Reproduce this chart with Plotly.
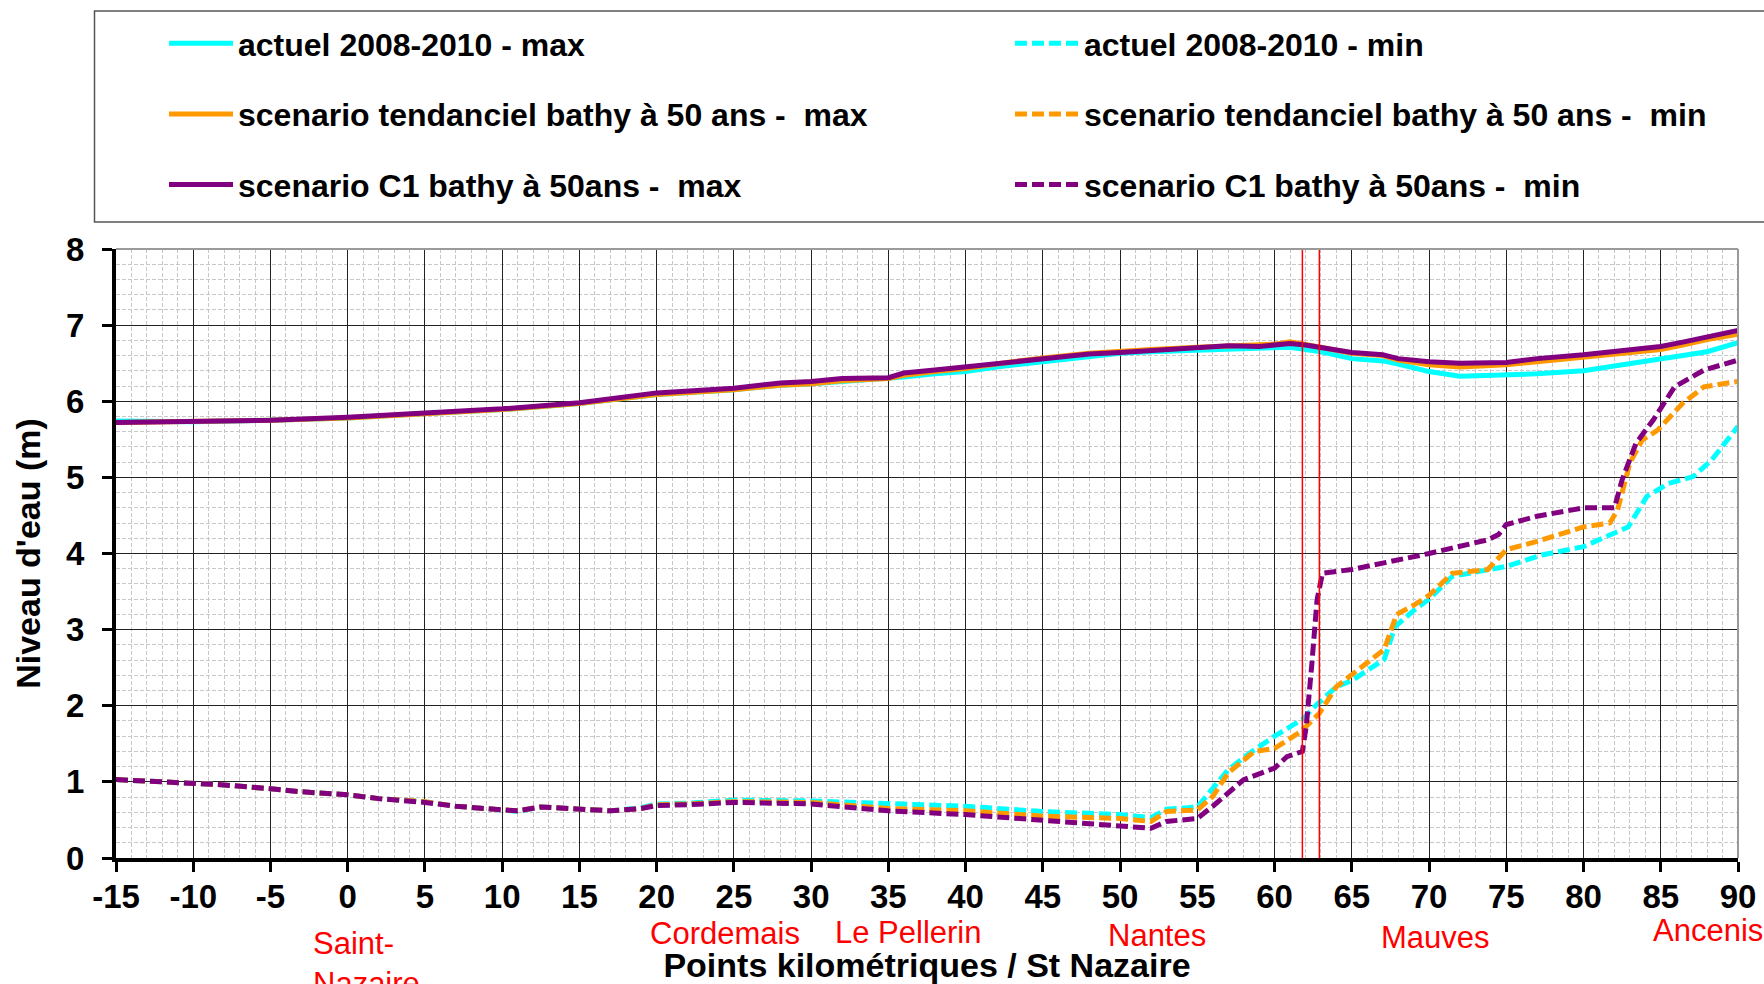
import plotly.graph_objects as go

# ---------------- data ----------------
x_max = [-15, -10, -5, 0, 5, 10, 15, 20, 25, 28, 30, 32, 35, 36, 38, 40, 42, 45, 48, 50,
         52, 55, 57, 59, 60, 61, 62, 63, 65, 67, 68, 70, 72, 75, 77, 80, 85, 86.5, 88, 90]
max_actuel = [5.74, 5.73, 5.75, 5.78, 5.84, 5.89, 5.97, 6.09, 6.15, 6.21, 6.23, 6.26, 6.29, 6.32, 6.36, 6.39, 6.45, 6.52, 6.59, 6.63,
              6.65, 6.67, 6.69, 6.69, 6.70, 6.71, 6.68, 6.65, 6.56, 6.53, 6.49, 6.39, 6.33, 6.34, 6.36, 6.40, 6.56, 6.60, 6.65, 6.77]
max_tendanciel = [5.72, 5.73, 5.75, 5.78, 5.84, 5.89, 5.97, 6.09, 6.15, 6.21, 6.23, 6.27, 6.30, 6.34, 6.39, 6.43, 6.49, 6.57, 6.63, 6.66,
                  6.68, 6.71, 6.73, 6.74, 6.75, 6.78, 6.75, 6.71, 6.63, 6.60, 6.54, 6.48, 6.45, 6.48, 6.52, 6.58, 6.68, 6.74, 6.81, 6.88]
max_c1 = [5.72, 5.73, 5.75, 5.79, 5.85, 5.90, 5.98, 6.11, 6.17, 6.24, 6.26, 6.30, 6.31, 6.37, 6.41, 6.45, 6.50, 6.55, 6.62, 6.64,
          6.67, 6.70, 6.73, 6.72, 6.74, 6.76, 6.74, 6.71, 6.64, 6.61, 6.56, 6.52, 6.50, 6.51, 6.56, 6.61, 6.72, 6.78, 6.85, 6.93]

x_min_actuel = [-15, -12, -10, -8, -5, -3, 0, 2, 5, 7, 9.5, 11, 12.5, 15, 17, 19, 20, 22, 25, 30,
                35, 40, 45, 50, 52, 53, 55, 56, 57, 58.4, 60, 61.8, 62.6, 64, 65, 67.1, 67.8, 69, 70, 71.5,
                75, 77.3, 80, 82.9, 84.1, 85.5, 87.1, 88.3, 90]
min_actuel = [1.03, 1.00, 0.98, 0.96, 0.91, 0.87, 0.83, 0.78, 0.74, 0.68, 0.64, 0.61, 0.67, 0.64, 0.62, 0.66, 0.71, 0.72, 0.76, 0.75,
              0.71, 0.68, 0.61, 0.57, 0.53, 0.64, 0.67, 0.92, 1.16, 1.38, 1.60, 1.82, 1.99, 2.25, 2.33, 2.61, 3.04, 3.25, 3.40, 3.70,
              3.83, 3.98, 4.09, 4.35, 4.75, 4.92, 5.01, 5.23, 5.67]

x_min_tendanciel = [-15, -12, -10, -8, -5, -3, 0, 2, 5, 7, 9.5, 11, 12.5, 15, 17, 19, 20, 22, 25, 30,
                    35, 40, 45, 50, 52, 53, 55, 56, 57, 58.7, 60, 61.7, 62.9, 64, 65, 67.1, 67.9, 69, 70, 71.5,
                    73.8, 75, 77, 80, 81.7, 82.2, 83, 83.8, 84.8, 86.4, 87.8, 90]
min_tendanciel = [1.03, 1.00, 0.98, 0.96, 0.91, 0.87, 0.83, 0.78, 0.74, 0.68, 0.64, 0.62, 0.67, 0.64, 0.62, 0.65, 0.70, 0.71, 0.74, 0.73,
                  0.65, 0.62, 0.55, 0.52, 0.48, 0.61, 0.63, 0.81, 1.12, 1.40, 1.44, 1.66, 1.90, 2.25, 2.41, 2.74, 3.20, 3.32, 3.45, 3.74,
                  3.79, 4.05, 4.16, 4.35, 4.40, 4.57, 5.19, 5.49, 5.62, 5.97, 6.19, 6.26]

x_min_c1 = [-15, -12, -10, -8, -5, -3, 0, 2, 5, 7, 9.5, 11, 12.5, 15, 17, 19, 20, 22, 25, 30,
            35, 40, 45, 50, 52, 53, 55, 56, 58, 60, 60.8, 61.8, 62.05, 62.4, 62.75, 63.1, 65, 70, 73.8, 74.5,
            75, 77, 80, 82, 82.5, 83.4, 84.5, 85.9, 87.8, 90]
min_c1 = [1.03, 1.00, 0.98, 0.96, 0.91, 0.87, 0.83, 0.78, 0.73, 0.68, 0.64, 0.62, 0.67, 0.64, 0.62, 0.65, 0.69, 0.70, 0.73, 0.71,
          0.62, 0.57, 0.50, 0.43, 0.39, 0.48, 0.52, 0.68, 1.03, 1.18, 1.33, 1.40, 1.73, 2.52, 3.39, 3.74, 3.79, 4.00, 4.18, 4.25,
          4.38, 4.49, 4.60, 4.60, 4.97, 5.45, 5.75, 6.19, 6.41, 6.54]

names = ["actuel 2008-2010 - max", "actuel 2008-2010 - min",
         "scenario tendanciel bathy à 50 ans -  max", "scenario tendanciel bathy à 50 ans -  min",
         "scenario C1 bathy à 50ans -  max", "scenario C1 bathy à 50ans -  min"]
colors = {"actuel": "#00FFFF", "tendanciel": "#FF9900", "c1": "#800080"}

x_ticks = [-15, -10, -5, 0, 5, 10, 15, 20, 25, 30, 35, 40, 45, 50, 55, 60, 65, 70, 75, 80, 85, 90]
y_ticks = [0, 1, 2, 3, 4, 5, 6, 7, 8]

limits_km = [61.8, 62.9]

place_names = ["Saint-<br>Nazaire", "Cordemais", "Le Pellerin", "Nantes", "Mauves", "Ancenis"]
place_km = [-2.4, 24.4, 36.3, 52.4, 70.4, 84.4]
place_anchor = ["left", "center", "center", "center", "center", "left"]
place_ypx = [963, 933, 932, 935, 937, 930]

# ---------------- geometry ----------------
W, H = 1764, 984
L, R, T, B = 116, 26, 249, 126
PW, PH = W - L - R, H - T - B

def px2paper_x(px):
    return (px - L) / PW

def px2paper_y(py):
    return (H - B - py) / PH

FONT = "Liberation Sans, Arial, sans-serif"
DASH = "12px,5px"

fig = go.Figure()
series = [
    (x_max, max_actuel, names[0], colors["actuel"], "solid", "legend"),
    (x_min_actuel, min_actuel, names[1], colors["actuel"], DASH, "legend2"),
    (x_max, max_tendanciel, names[2], colors["tendanciel"], "solid", "legend"),
    (x_min_tendanciel, min_tendanciel, names[3], colors["tendanciel"], DASH, "legend2"),
    (x_max, max_c1, names[4], colors["c1"], "solid", "legend"),
    (x_min_c1, min_c1, names[5], colors["c1"], DASH, "legend2"),
]
for i, (xs, ys, nm, col, dash, lg) in enumerate(series):
    fig.add_trace(go.Scatter(
        x=xs, y=ys, name=nm, mode="lines",
        line=dict(color=col, width=5, dash=dash),
        legend=lg, legendgroup="g%d" % i,
    ))

for xv in limits_km:
    fig.add_shape(type="line", xref="x", yref="y", x0=xv, x1=xv, y0=0, y1=8,
                  line=dict(color="#FF0000", width=1.5), layer="above")

# top and right frame (grey)
fig.add_shape(type="line", xref="paper", yref="paper", x0=0, x1=1, y0=1, y1=1,
              line=dict(color="#9a9a9a", width=2), layer="above")
fig.add_shape(type="line", xref="paper", yref="paper", x0=1, x1=1, y0=0, y1=1,
              line=dict(color="#9a9a9a", width=2), layer="above")

# legend box
fig.add_shape(type="rect", xref="paper", yref="paper",
              x0=px2paper_x(94.5), x1=px2paper_x(1800), y0=px2paper_y(222), y1=px2paper_y(11),
              line=dict(color="#555555", width=1.5), fillcolor="rgba(0,0,0,0)")

for nm, xk, anc, ypx in zip(place_names, place_km, place_anchor, place_ypx):
    fig.add_annotation(x=xk, xref="x", y=px2paper_y(ypx), yref="paper", text=nm,
                       showarrow=False, xanchor=anc, yanchor="middle", align="left",
                       font=dict(family=FONT, size=31, color="#FF0000"))

legend_common = dict(
    orientation="v", xanchor="left", yanchor="top",
    bgcolor="rgba(0,0,0,0)", borderwidth=0,
    font=dict(family=FONT, size=32, color="black", weight="bold"),
    itemwidth=64, tracegroupgap=26, itemclick=False, itemdoubleclick=False,
)

fig.update_layout(
    width=W, height=H,
    margin=dict(l=L, r=R, t=T, b=B, autoexpand=False),
    paper_bgcolor="white", plot_bgcolor="white",
    showlegend=True,
    legend=dict(x=px2paper_x(164), y=px2paper_y(16), **legend_common),
    legend2=dict(x=px2paper_x(1010), y=px2paper_y(16), **legend_common),
    font=dict(family=FONT, color="black"),
)

fig.update_xaxes(
    range=[-15, 90], tickvals=x_ticks, ticktext=[str(v) for v in x_ticks],
    showline=True, linecolor="black", linewidth=4,
    ticks="outside", ticklen=10, tickwidth=3, tickcolor="black",
    tickfont=dict(family=FONT, size=33, color="black", weight="bold"),
    ticklabelstandoff=-4,
    showgrid=True, gridcolor="#222222", gridwidth=1.3,
    minor=dict(dtick=1, tick0=0, showgrid=True, gridcolor="#c8c8c8", gridwidth=1, griddash="4px,2px"),
    zeroline=False,
    title=dict(text="Points kilométriques / St Nazaire", standoff=46,
               font=dict(family=FONT, size=34, color="black", weight="bold")),
)
fig.update_yaxes(
    range=[0, 8], tickvals=y_ticks,
    showline=True, linecolor="black", linewidth=4,
    ticks="outside", ticklen=10, tickwidth=3, tickcolor="black",
    tickfont=dict(family=FONT, size=33, color="black", weight="bold"),
    ticklabelstandoff=11,
    showgrid=True, gridcolor="#222222", gridwidth=1.3,
    minor=dict(dtick=0.2, tick0=0, showgrid=True, gridcolor="#c8c8c8", gridwidth=1, griddash="4px,2px"),
    zeroline=False,
    title=dict(text="Niveau d'eau (m)", standoff=16,
               font=dict(family=FONT, size=34, color="black", weight="bold")),
)

fig.write_html("out.html")
